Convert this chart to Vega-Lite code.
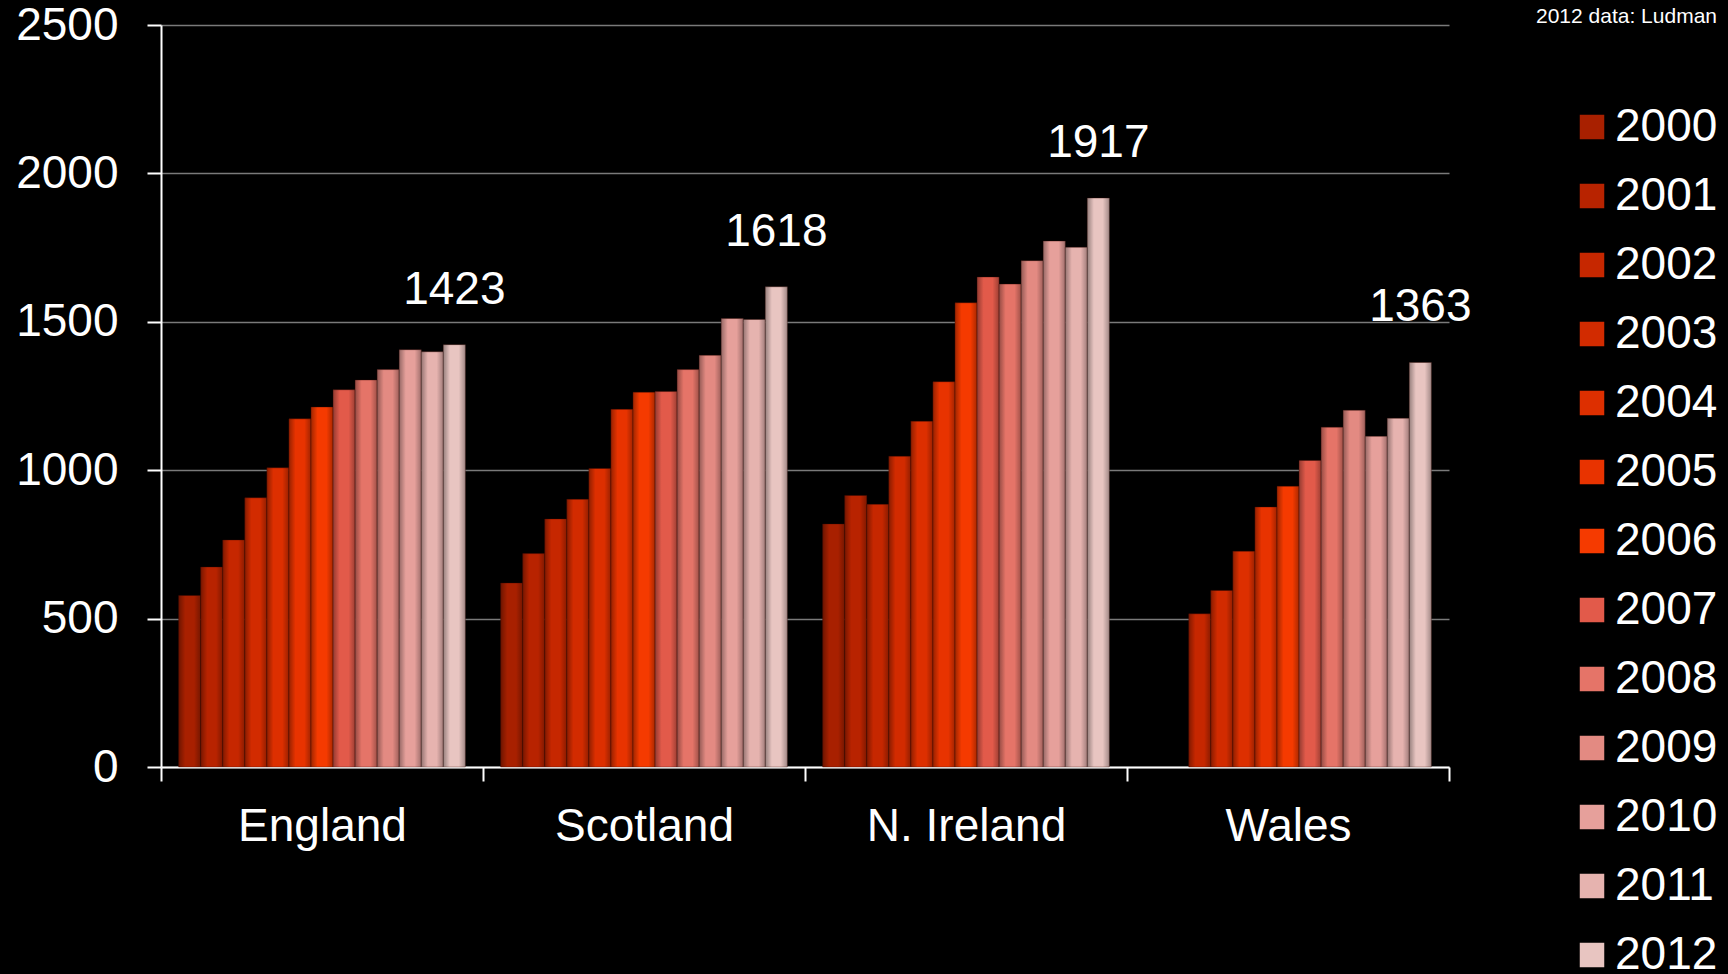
{
  "$schema": "https://vega.github.io/schema/vega-lite/v6.json",
  "width": 1288,
  "height": 742,
  "autosize": {"type": "none"},
  "padding": {"left": 161, "top": 25, "right": 279, "bottom": 207},
  "background": "#000000",
  "config": {"view": {"stroke": null}, "font": "Liberation Sans"},
  "title": {"text": "2012 data: Ludman", "anchor": "end", "frame": "group", "dx": 268, "offset": 0, "dy": 42, "baseline": "alphabetic", "fontSize": 21, "fontWeight": "normal", "color": "#ffffff", "font": "Liberation Sans"},
  "data": {"values": [
    {"country": "England", "year": "2000", "value": 578},
    {"country": "England", "year": "2001", "value": 674},
    {"country": "England", "year": "2002", "value": 765},
    {"country": "England", "year": "2003", "value": 907},
    {"country": "England", "year": "2004", "value": 1008},
    {"country": "England", "year": "2005", "value": 1173},
    {"country": "England", "year": "2006", "value": 1213},
    {"country": "England", "year": "2007", "value": 1271},
    {"country": "England", "year": "2008", "value": 1304},
    {"country": "England", "year": "2009", "value": 1339},
    {"country": "England", "year": "2010", "value": 1406},
    {"country": "England", "year": "2011", "value": 1399},
    {"country": "England", "year": "2012", "value": 1423},
    {"country": "Scotland", "year": "2000", "value": 620},
    {"country": "Scotland", "year": "2001", "value": 719},
    {"country": "Scotland", "year": "2002", "value": 836},
    {"country": "Scotland", "year": "2003", "value": 902},
    {"country": "Scotland", "year": "2004", "value": 1006},
    {"country": "Scotland", "year": "2005", "value": 1205},
    {"country": "Scotland", "year": "2006", "value": 1263},
    {"country": "Scotland", "year": "2007", "value": 1265},
    {"country": "Scotland", "year": "2008", "value": 1339},
    {"country": "Scotland", "year": "2009", "value": 1387},
    {"country": "Scotland", "year": "2010", "value": 1511},
    {"country": "Scotland", "year": "2011", "value": 1508},
    {"country": "Scotland", "year": "2012", "value": 1618},
    {"country": "N. Ireland", "year": "2000", "value": 819},
    {"country": "N. Ireland", "year": "2001", "value": 915},
    {"country": "N. Ireland", "year": "2002", "value": 885},
    {"country": "N. Ireland", "year": "2003", "value": 1047},
    {"country": "N. Ireland", "year": "2004", "value": 1165},
    {"country": "N. Ireland", "year": "2005", "value": 1298},
    {"country": "N. Ireland", "year": "2006", "value": 1564},
    {"country": "N. Ireland", "year": "2007", "value": 1651},
    {"country": "N. Ireland", "year": "2008", "value": 1627},
    {"country": "N. Ireland", "year": "2009", "value": 1706},
    {"country": "N. Ireland", "year": "2010", "value": 1772},
    {"country": "N. Ireland", "year": "2011", "value": 1751},
    {"country": "N. Ireland", "year": "2012", "value": 1917},
    {"country": "Wales", "year": "2002", "value": 516},
    {"country": "Wales", "year": "2003", "value": 595},
    {"country": "Wales", "year": "2004", "value": 727},
    {"country": "Wales", "year": "2005", "value": 876},
    {"country": "Wales", "year": "2006", "value": 946},
    {"country": "Wales", "year": "2007", "value": 1033},
    {"country": "Wales", "year": "2008", "value": 1145},
    {"country": "Wales", "year": "2009", "value": 1202},
    {"country": "Wales", "year": "2010", "value": 1114},
    {"country": "Wales", "year": "2011", "value": 1175},
    {"country": "Wales", "year": "2012", "value": 1363}
  ]},
  "encoding": {
    "x": {
      "field": "country", "type": "nominal",
      "sort": ["England", "Scotland", "N. Ireland", "Wales"],
      "scale": {"paddingInner": 0, "paddingOuter": 0},
      "axis": {"title": null, "tickBand": "extent", "labelAngle": 0, "labelFontSize": 46, "labelColor": "#ffffff", "labelFont": "Liberation Sans", "labelLimit": 400, "domainColor": "#ffffff", "domainWidth": 2, "tickColor": "#ffffff", "tickWidth": 2, "tickSize": 14, "labelPadding": 23, "grid": false}
    },
    "xOffset": {"field": "year", "type": "nominal", "scale": {"paddingInner": 0, "paddingOuter": 0.8}},
    "y": {
      "field": "value", "type": "quantitative",
      "scale": {"domain": [0, 2500]},
      "axis": {"title": null, "values": [0, 500, 1000, 1500, 2000, 2500], "format": "d", "labelFontSize": 46, "labelColor": "#ffffff", "labelFont": "Liberation Sans", "domainColor": "#ffffff", "domainWidth": 2, "tickColor": "#ffffff", "tickWidth": 2, "tickSize": 14, "labelPadding": 29, "grid": true, "gridColor": "#7a7a7a", "gridWidth": 1.5}
    }
  },
  "layer": [
    {
      "mark": {"type": "bar", "stroke": "#3a0800", "strokeOpacity": 0.35, "strokeWidth": 1},
      "encoding": {
        "color": {
          "field": "year", "type": "nominal",
          "scale": {
            "domain": ["2000", "2001", "2002", "2003", "2004", "2005", "2006", "2007", "2008", "2009", "2010", "2011", "2012"],
            "range": ["#a82000", "#b82300", "#c62700", "#d22b00", "#dd2f00", "#e83300", "#f53a00", "#e25a4a", "#e57468", "#e38a82", "#e6a09b", "#e6b3af", "#e8c5c1"]
          },
          "legend": {"orient": "none", "legendX": 1408, "legendY": 79, "title": null, "symbolType": "square", "symbolSize": 600, "symbolStrokeWidth": 0, "labelFontSize": 46, "labelColor": "#ffffff", "labelFont": "Liberation Sans", "rowPadding": 23, "labelOffset": 0, "labelLimit": 300, "padding": 0}
        }
      }
    },
    {
      "mark": {"type": "bar", "color": {"gradient": "linear", "x1": 0, "y1": 0, "x2": 1, "y2": 0, "stops": [{"offset": 0, "color": "rgba(0,0,0,0.35)"}, {"offset": 0.3, "color": "rgba(0,0,0,0)"}, {"offset": 0.7, "color": "rgba(0,0,0,0)"}, {"offset": 1, "color": "rgba(0,0,0,0.3)"}]}}
    },
    {
      "transform": [{"filter": "datum.year == '2012'"}],
      "mark": {"type": "text", "baseline": "middle", "dy": -55, "fontSize": 46, "color": "#ffffff", "font": "Liberation Sans"},
      "encoding": {"text": {"field": "value", "type": "quantitative", "format": "d"}}
    }
  ]
}
